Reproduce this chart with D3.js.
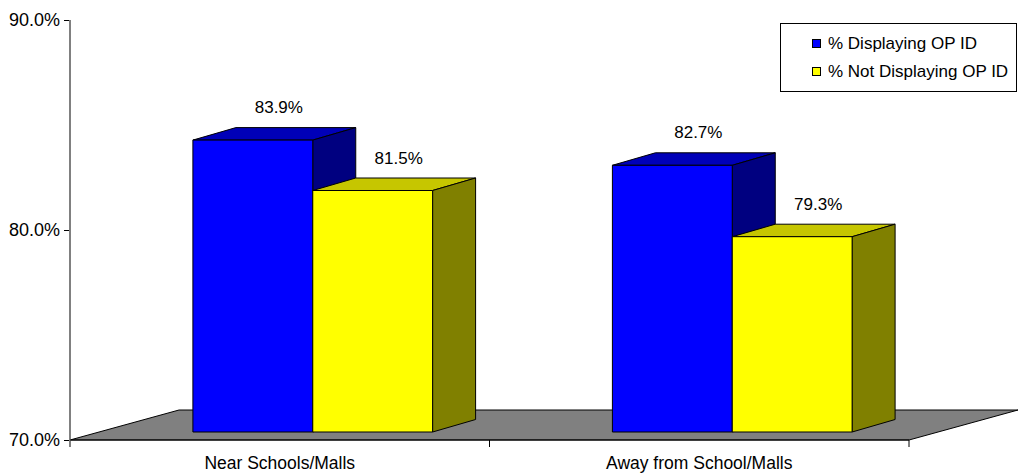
<!DOCTYPE html>
<html>
<head>
<meta charset="utf-8">
<script src="https://cdn.jsdelivr.net/npm/d3@7"></script>
<style>
  html, body { margin: 0; padding: 0; background: #fff; }
  svg { display: block; font-family: "Liberation Sans", Arial, sans-serif; }
</style>
</head>
<body>
<svg id="chart" width="1020" height="474"></svg>
<script>
// Data
const categories = ["Near Schools/Malls", "Away from School/Malls"];
const seriesNames = ["% Displaying OP ID", "% Not Displaying OP ID"];
const displaying = [83.9, 82.7];
const notDisplaying = [81.5, 79.3];
const yTicks = [70, 80, 90];

const seriesValues = [displaying, notDisplaying];
const faceColors = [
  { front: "#0000FF", top: "#0000B8", side: "#000080" },
  { front: "#FFFF00", top: "#C6C600", side: "#808000" }
];

const svg = d3.select("#chart");

// Plot geometry (front plane of the floor)
const plotLeft = 70, plotRight = 909, plotTop = 20, plotBottom = 440;
const floorDepth = { dx: 109, dy: -30 };   // full depth of the floor
const barOffset = { dx: 33, dy: -8 };      // bar front plane behind the floor front edge
const barDepth = { dx: 43, dy: -12.5 };    // depth of each bar

const y = d3.scaleLinear().domain([70, 90]).range([plotBottom, plotTop]);
const x0 = d3.scaleBand().domain(categories).range([plotLeft, plotRight]).padding(0);
const x1 = d3.scaleBand().domain(seriesNames).range([0, x0.bandwidth()])
  .paddingInner(0).paddingOuter(0.75);

// Floor
const floorPts = [
  [plotLeft, plotBottom], [plotRight, plotBottom],
  [plotRight + floorDepth.dx, plotBottom + floorDepth.dy],
  [plotLeft + floorDepth.dx, plotBottom + floorDepth.dy]
];
svg.append("polygon")
  .attr("points", floorPts.map(p => p.join(",")).join(" "))
  .attr("fill", "#808080")
  .attr("stroke", "#000")
  .attr("stroke-width", 1)
  .attr("stroke-linejoin", "round");

// Bars
const gBars = svg.append("g");
const labels = [];
categories.forEach((cat, ci) => {
  seriesNames.forEach((s, si) => {
    const v = seriesValues[si][ci];
    const c = faceColors[si];
    const xl = x0(cat) + x1(s) + barOffset.dx;
    const xr = xl + x1.bandwidth();
    const yt = y(v) + barOffset.dy;
    const yb = y(70) + barOffset.dy;
    const dx = barDepth.dx, dy = barDepth.dy;
    const poly = (pts, fill) => gBars.append("polygon")
      .attr("points", pts.map(p => p.join(",")).join(" "))
      .attr("fill", fill)
      .attr("stroke", "#000")
      .attr("stroke-width", 1)
      .attr("stroke-linejoin", "round");
    // top face
    poly([[xl, yt], [xr, yt], [xr + dx, yt + dy], [xl + dx, yt + dy]], c.top);
    // right side face
    poly([[xr, yt], [xr + dx, yt + dy], [xr + dx, yb + dy], [xr, yb]], c.side);
    // front face
    poly([[xl, yt], [xr, yt], [xr, yb], [xl, yb]], c.front);
    labels.push({ x: (xl + xr) / 2 + 26, y: yt - 27, text: v.toFixed(1) + "%" });
  });
});

// Value labels
svg.append("g").selectAll("text").data(labels).join("text")
  .attr("x", d => d.x)
  .attr("y", d => d.y)
  .attr("text-anchor", "middle")
  .attr("font-size", 17)
  .attr("fill", "#000")
  .text(d => d.text);

// Value axis
const yAxis = d3.axisLeft(y)
  .tickValues(yTicks)
  .tickFormat(d => d.toFixed(1) + "%")
  .tickSize(6)
  .tickSizeOuter(0)
  .tickPadding(4);
const gy = svg.append("g").attr("transform", `translate(${plotLeft},0)`).call(yAxis);
gy.select(".domain").remove();
gy.selectAll(".tick line").attr("stroke", "#000");
gy.selectAll(".tick text")
  .attr("font-size", 18)
  .attr("font-family", "Liberation Sans, Arial, sans-serif")
  .attr("fill", "#000");
svg.append("line")
  .attr("x1", plotLeft).attr("x2", plotLeft)
  .attr("y1", plotTop).attr("y2", plotBottom + 7)
  .attr("stroke", "#808080")
  .attr("stroke-width", 2);

// Category axis
svg.append("line")
  .attr("x1", plotLeft).attr("x2", plotRight)
  .attr("y1", plotBottom).attr("y2", plotBottom)
  .attr("stroke", "#000")
  .attr("stroke-width", 1);
const catTicks = categories.map(c => x0(c) + x0.bandwidth());
svg.append("g").selectAll("line").data(catTicks).join("line")
  .attr("x1", d => d).attr("x2", d => d)
  .attr("y1", plotBottom).attr("y2", plotBottom + 7)
  .attr("stroke", "#000");
svg.append("g").selectAll("text").data(categories).join("text")
  .attr("x", d => x0(d) + x0.bandwidth() / 2)
  .attr("y", 469)
  .attr("text-anchor", "middle")
  .attr("font-size", 17.5)
  .attr("fill", "#000")
  .text(d => d);

// Legend
const legend = svg.append("g");
legend.append("rect")
  .attr("x", 780.5).attr("y", 23.5)
  .attr("width", 236).attr("height", 68)
  .attr("fill", "#fff")
  .attr("stroke", "#000");
seriesNames.forEach((s, i) => {
  const yy = 39 + i * 28;
  legend.append("rect")
    .attr("x", 812.5).attr("y", yy + 0.5)
    .attr("width", 8).attr("height", 8)
    .attr("fill", faceColors[i].front)
    .attr("stroke", "#000");
  legend.append("text")
    .attr("x", 828).attr("y", yy + 10)
    .attr("font-size", 17)
    .attr("fill", "#000")
    .text(s);
});
</script>
</body>
</html>
